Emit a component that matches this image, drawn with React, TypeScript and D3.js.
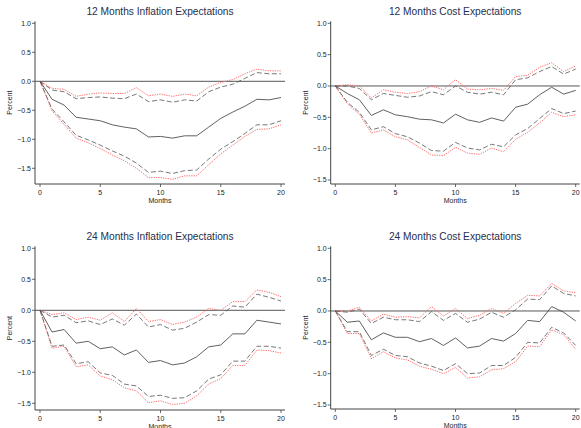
import React from "react";
import * as d3 from "d3";

const months = d3.range(0, 21);
const xTicks = [0, 5, 10, 15, 20];
const yTicks = [-1.5, -1.0, -0.5, 0, 0.5, 1.0];

// 12 Months Inflation Expectations
const inf12Est = [0, -0.31, -0.41, -0.62, -0.65, -0.68, -0.75, -0.79, -0.82, -0.96, -0.95, -0.98, -0.94, -0.94, -0.79, -0.64, -0.53, -0.43, -0.31, -0.32, -0.28];
const inf12Up = [0, -0.15, -0.18, -0.30, -0.28, -0.27, -0.29, -0.30, -0.22, -0.35, -0.32, -0.36, -0.32, -0.34, -0.18, -0.10, -0.05, 0.05, 0.15, 0.13, 0.13];
const inf12Lo = [0, -0.48, -0.70, -0.93, -1.01, -1.10, -1.20, -1.29, -1.41, -1.57, -1.55, -1.59, -1.54, -1.53, -1.34, -1.17, -1.04, -0.90, -0.75, -0.75, -0.68];
const inf12UpR = [0, -0.12, -0.14, -0.26, -0.22, -0.20, -0.21, -0.21, -0.11, -0.25, -0.22, -0.26, -0.22, -0.25, -0.10, -0.02, 0.03, 0.13, 0.21, 0.18, 0.18];
const inf12LoR = [0, -0.51, -0.74, -0.98, -1.06, -1.16, -1.27, -1.37, -1.50, -1.66, -1.66, -1.69, -1.63, -1.63, -1.44, -1.25, -1.10, -0.95, -0.83, -0.82, -0.75];

// 12 Months Cost Expectations
const cost12Est = [0, -0.12, -0.22, -0.47, -0.38, -0.46, -0.49, -0.53, -0.54, -0.59, -0.45, -0.54, -0.58, -0.51, -0.56, -0.34, -0.29, -0.14, -0.02, -0.13, -0.07];
const cost12Up = [0, 0.0, -0.04, -0.22, -0.12, -0.15, -0.18, -0.16, -0.09, -0.14, 0.0, -0.10, -0.13, -0.10, -0.14, 0.10, 0.13, 0.23, 0.31, 0.19, 0.27];
const cost12Lo = [0, -0.26, -0.42, -0.70, -0.65, -0.76, -0.81, -0.91, -1.03, -1.04, -0.90, -0.99, -1.02, -0.93, -0.97, -0.78, -0.68, -0.52, -0.36, -0.44, -0.40];
const cost12UpR = [0, 0.02, 0.0, -0.19, -0.06, -0.10, -0.12, -0.09, 0.0, -0.06, 0.10, -0.05, -0.06, -0.04, -0.07, 0.15, 0.17, 0.30, 0.37, 0.23, 0.32];
const cost12LoR = [0, -0.28, -0.45, -0.75, -0.70, -0.81, -0.86, -0.98, -1.10, -1.11, -0.98, -1.07, -1.09, -0.99, -1.05, -0.85, -0.74, -0.59, -0.42, -0.49, -0.46];

// 24 Months Inflation Expectations
const inf24Est = [0, -0.35, -0.31, -0.53, -0.50, -0.62, -0.59, -0.72, -0.64, -0.84, -0.81, -0.88, -0.85, -0.75, -0.59, -0.56, -0.38, -0.38, -0.16, -0.19, -0.22];
const inf24Up = [0, -0.11, -0.08, -0.20, -0.17, -0.23, -0.14, -0.24, -0.06, -0.27, -0.23, -0.32, -0.29, -0.19, -0.07, -0.08, 0.07, 0.05, 0.26, 0.21, 0.15];
const inf24Lo = [0, -0.58, -0.56, -0.86, -0.83, -1.01, -1.05, -1.19, -1.22, -1.39, -1.37, -1.42, -1.41, -1.30, -1.11, -1.04, -0.82, -0.82, -0.58, -0.58, -0.61];
const inf24UpR = [0, -0.07, -0.04, -0.15, -0.11, -0.16, -0.04, -0.18, 0.03, -0.18, -0.15, -0.23, -0.19, -0.11, 0.03, 0.0, 0.14, 0.14, 0.33, 0.29, 0.22];
const inf24LoR = [0, -0.61, -0.58, -0.91, -0.88, -1.06, -1.12, -1.25, -1.30, -1.49, -1.46, -1.52, -1.50, -1.38, -1.19, -1.10, -0.89, -0.89, -0.64, -0.65, -0.69];

// 24 Months Cost Expectations
const cost24Est = [0, -0.18, -0.16, -0.46, -0.35, -0.42, -0.42, -0.49, -0.44, -0.55, -0.43, -0.59, -0.56, -0.44, -0.48, -0.36, -0.15, -0.17, 0.07, -0.02, -0.16];
const cost24Up = [0, -0.02, 0.03, -0.20, -0.10, -0.14, -0.14, -0.17, -0.01, -0.15, -0.04, -0.18, -0.13, -0.02, -0.10, 0.02, 0.19, 0.18, 0.40, 0.28, 0.24];
const cost24Lo = [0, -0.33, -0.33, -0.71, -0.61, -0.71, -0.73, -0.83, -0.88, -0.95, -0.84, -1.00, -0.99, -0.87, -0.87, -0.74, -0.50, -0.51, -0.26, -0.35, -0.55];
const cost24UpR = [0, 0.0, 0.06, -0.16, -0.05, -0.10, -0.09, -0.11, 0.07, -0.08, 0.04, -0.12, -0.07, 0.04, -0.04, 0.12, 0.25, 0.24, 0.44, 0.32, 0.29];
const cost24LoR = [0, -0.36, -0.36, -0.76, -0.65, -0.75, -0.78, -0.88, -0.93, -1.00, -0.90, -1.07, -1.05, -0.94, -0.92, -0.81, -0.56, -0.57, -0.30, -0.38, -0.61];

const titles = [
  "12 Months Inflation Expectations",
  "12 Months Cost Expectations",
  "24 Months Inflation Expectations",
  "24 Months Cost Expectations",
];

type Panel = {
  title: string;
  est: number[];
  up: number[];
  lo: number[];
  upR: number[];
  loR: number[];
  x0: number;
  x20: number;
  yTop: number; // pixel of 1.0
  yBot: number; // pixel of -1.5
  axisBottom: number;
  axisLeft: number;
  titleY: number;
};

const panels: Panel[] = [
  { title: titles[0], est: inf12Est, up: inf12Up, lo: inf12Lo, upR: inf12UpR, loR: inf12LoR,
    x0: 40, x20: 281, yTop: 23.3, yBot: 168.3, axisBottom: 184, axisLeft: 35, titleY: 14.5 },
  { title: titles[1], est: cost12Est, up: cost12Up, lo: cost12Lo, upR: cost12UpR, loR: cost12LoR,
    x0: 335.3, x20: 575.7, yTop: 23.3, yBot: 180, axisBottom: 184, axisLeft: 330.7, titleY: 14.5 },
  { title: titles[2], est: inf24Est, up: inf24Up, lo: inf24Lo, upR: inf24UpR, loR: inf24LoR,
    x0: 40, x20: 281, yTop: 248.3, yBot: 403.3, axisBottom: 410, axisLeft: 35, titleY: 239.5 },
  { title: titles[3], est: cost24Est, up: cost24Up, lo: cost24Lo, upR: cost24UpR, loR: cost24LoR,
    x0: 335.3, x20: 575.7, yTop: 248.3, yBot: 405, axisBottom: 409, axisLeft: 330.7, titleY: 239.5 },
];

const fmt = (v: number) => (v < 0 ? "\u2212" : "") + Math.abs(v).toFixed(1);
const FONT = "'Liberation Sans', Arial, sans-serif";

function PanelView({ p }: { p: Panel }) {
  const x = d3.scaleLinear().domain([0, 20]).range([p.x0, p.x20]);
  const y = d3.scaleLinear().domain([-1.5, 1.0]).range([p.yBot, p.yTop]);
  const line = d3
    .line<number>()
    .x((_, i) => x(months[i]))
    .y((d) => y(d));
  const axisRight = p.x20 + 4;
  const axisTop = p.yTop - 2;
  const plotMidY = (axisTop + p.axisBottom) / 2;
  const midX = (p.axisLeft + axisRight) / 2;
  return (
    <g>
      <text x={midX} y={p.titleY} textAnchor="middle" fontSize={10.2} fill="#1f2f4f" fontFamily={FONT}>
        {p.title}
      </text>
      {/* zero line */}
      <line x1={p.axisLeft} x2={axisRight} y1={y(0)} y2={y(0)} stroke="#555" strokeWidth={1} />
      {/* series */}
      <path d={line(p.upR) || ""} fill="none" stroke="#ff6e6e" strokeWidth={1} strokeDasharray="1.3,1.1" />
      <path d={line(p.loR) || ""} fill="none" stroke="#ff6e6e" strokeWidth={1} strokeDasharray="1.3,1.1" />
      <path d={line(p.up) || ""} fill="none" stroke="#555" strokeWidth={0.8} strokeDasharray="5,2.5" />
      <path d={line(p.lo) || ""} fill="none" stroke="#555" strokeWidth={0.8} strokeDasharray="5,2.5" />
      <path d={line(p.est) || ""} fill="none" stroke="#444" strokeWidth={0.85} />
      {/* y axis */}
      <line x1={p.axisLeft} x2={p.axisLeft} y1={axisTop} y2={p.axisBottom} stroke="#444" strokeWidth={1} />
      {yTicks.map((t) => (
        <g key={t}>
          <line x1={p.axisLeft - 3} x2={p.axisLeft} y1={y(t)} y2={y(t)} stroke="#444" strokeWidth={0.8} />
          <text x={p.axisLeft - 4} y={y(t)} dy="0.35em" textAnchor="end" fontSize={7} fill="#222" fontFamily={FONT}>
            {fmt(t)}
          </text>
        </g>
      ))}
      <text
        transform={`translate(${p.axisLeft - 23},${plotMidY}) rotate(-90)`}
        textAnchor="middle"
        fontSize={7}
        fill="#222"
        fontFamily={FONT}
      >
        Percent
      </text>
      {/* x axis */}
      <line x1={p.axisLeft} x2={axisRight} y1={p.axisBottom} y2={p.axisBottom} stroke="#444" strokeWidth={1} />
      {xTicks.map((t) => (
        <g key={t}>
          <line x1={x(t)} x2={x(t)} y1={p.axisBottom} y2={p.axisBottom + 3} stroke="#444" strokeWidth={0.8} />
          <text x={x(t)} y={p.axisBottom + 10.5} textAnchor="middle" fontSize={7} fill="#222" fontFamily={FONT}>
            {t}
          </text>
        </g>
      ))}
      <text x={midX} y={p.axisBottom + 18.5} textAnchor="middle" fontSize={7} fill="#222" fontFamily={FONT}>
        Months
      </text>
    </g>
  );
}

export default function App() {
  return (
    <svg
      width={581}
      height={428}
      style={{ position: "absolute", left: 0, top: 0, background: "#fff" }}
    >
      <rect width={581} height={428} fill="#fff" />
      {panels.map((p) => (
        <PanelView key={p.title} p={p} />
      ))}
    </svg>
  );
}
